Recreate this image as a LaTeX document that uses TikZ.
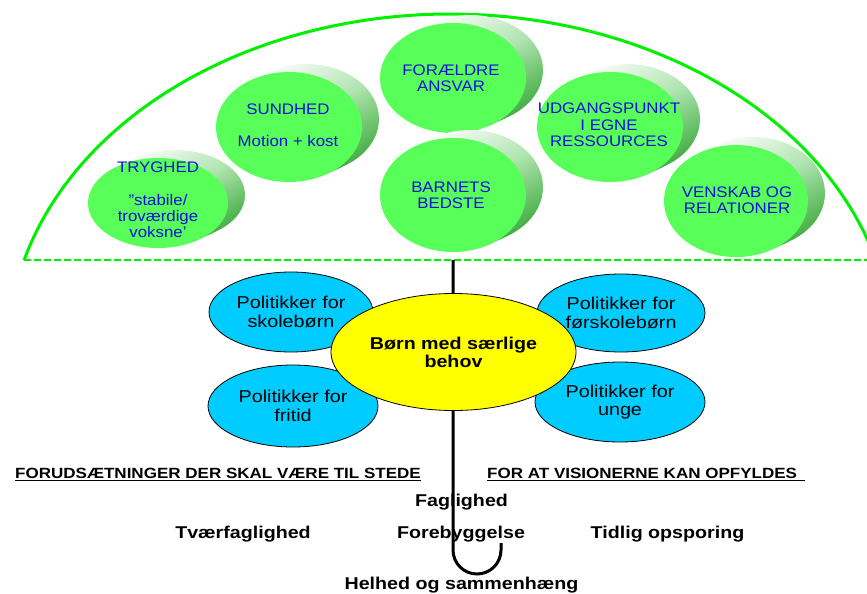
\documentclass[tikz,border=0pt]{standalone}
\usepackage{fontspec}
\setmainfont{Liberation Sans}
\newfontfamily\gfont[FakeStretch=1.1]{Liberation Sans}
\newfontfamily\bfont[FakeStretch=1.15]{Liberation Sans}
\usetikzlibrary{shapes.geometric}
\definecolor{canopy}{RGB}{0,240,0}
\definecolor{bubblegreen}{RGB}{88,255,88}
\definecolor{shadowgreen}{RGB}{60,170,60}
\definecolor{shadowmid}{RGB}{175,228,175}
\definecolor{textblue}{RGB}{15,15,220}
\definecolor{skyblue}{RGB}{0,204,255}
\definecolor{sunyellow}{RGB}{255,255,0}
\tikzset{
  greentext/.style={text=textblue, align=center, inner sep=0pt, font=\gfont\fontsize{15.3}{16.3}\selectfont},
  blueell/.style={ellipse, draw=black, line width=0.8pt, fill=skyblue, inner sep=0pt, align=center, font=\bfont\fontsize{17.2}{18.5}\selectfont},
  yellowell/.style={ellipse, draw=black, line width=0.8pt, fill=sunyellow, inner sep=0pt, align=center, font=\bfont\bfseries\fontsize{17.1}{18}\selectfont},
  bottomtext/.style={inner sep=0pt, font=\bfont\bfseries\fontsize{17.1}{18}\selectfont},
  headtext/.style={inner sep=0pt, font=\bfont\bfseries\fontsize{14.8}{16}\selectfont},
  shadowshade/.style={top color=white, bottom color=shadowgreen, middle color=shadowmid, shading angle=30},
}
\newcommand\gbubble[4]{%
  \shade[shadowshade]
    ({#1+3},{#2-1.5}) ellipse[x radius=#3pt, y radius=#4pt]
    ({#1+6},{#2-3}) ellipse[x radius=#3pt, y radius=#4pt]
    ({#1+9},{#2-4.5}) ellipse[x radius=#3pt, y radius=#4pt]
    ({#1+12},{#2-5.5}) ellipse[x radius=#3pt, y radius=#4pt]
    ({#1+15},{#2-7}) ellipse[x radius=#3pt, y radius=#4pt]
    ({#1+17},{#2-8}) ellipse[x radius=#3pt, y radius=#4pt];
  \fill[bubblegreen] (#1,#2) ellipse[x radius=#3pt, y radius=#4pt];
}
\begin{document}
\begin{tikzpicture}[x=1pt,y=-1pt]
\useasboundingbox (0,0) rectangle (867,594);
\fill[white] (0,0) rectangle (867,594);
% canopy
\begin{scope}
  \clip (0,0) rectangle (867,594);
  \draw[canopy, line width=3pt] plot[domain=164.5:12, samples=150, smooth] ({450+442*cos(\x)},{350-336*sin(\x)});
\end{scope}
\coordinate (dl) at (24,260);
\coordinate (dr) at (867,260);
\draw[canopy, line width=2.6pt, dash pattern=on 6.5pt off 3.5pt] (dl) -- (dr);
% handle
\coordinate (htop) at (453,260);
\coordinate (hbend) at (453,550);
\draw[line width=3pt] (htop) -- (hbend) arc[start angle=180, end angle=360, radius=24pt] -- ++(0,-7);
% green bubbles
\gbubble{158}{203}{70}{45}
\node[greentext] (tryghed) at (158,200) {TRYGHED\\[16pt]”stabile/\\troværdige\\voksne’};
\gbubble{289}{127}{73}{55}
\node[greentext] (sundhed) at (288,125) {SUNDHED\\[16pt]Motion + kost};
\gbubble{453}{78}{73}{55}
\node[greentext] (foraeldre) at (451,78) {FORÆLDRE\\ANSVAR};
\gbubble{453}{195}{73}{57}
\node[greentext] (barnets) at (451,195) {BARNETS\\BEDSTE};
\gbubble{610}{127}{73}{55}
\node[greentext] (udgang) at (609,125) {UDGANGSPUNKT\\I EGNE\\RESSOURCES};
\gbubble{736}{201}{72}{56}
\node[greentext] (venskab) at (737,200) {VENSKAB OG\\RELATIONER};
% blue ellipses
\node[blueell, minimum width=164pt, minimum height=80pt] (skole) at (291,312) {Politikker for\\skolebørn};
\node[blueell, minimum width=170pt, minimum height=82pt] (fritid) at (293,406) {Politikker for\\fritid};
\node[blueell, minimum width=168pt, minimum height=78pt] (forskole) at (621,313) {Politikker for\\førskolebørn};
\node[blueell, minimum width=170pt, minimum height=80pt] (unge) at (620,402) {Politikker for\\unge};
% centre
\node[yellowell, minimum width=245pt, minimum height=117pt] (centre) at (453.5,352) {Børn med særlige\\behov};
% headings
\node[headtext, anchor=base west] (h1) at (15,478) {FORUDSÆTNINGER DER SKAL VÆRE TIL STEDE};
\draw[line width=1.2pt] ([yshift=-2.5pt]h1.base west) -- ([yshift=-2.5pt]h1.base east);
\node[headtext, anchor=base west] (h2) at (487,478) {FOR AT VISIONERNE KAN OPFYLDES};
\coordinate (u2) at (805,480.5);
\draw[line width=1.2pt] ([yshift=-2.5pt]h2.base west) -- (u2);
% bottom texts
\node[bottomtext] (fag) at (461.5,502) {Faglighed};
\node[bottomtext] (tvaer) at (243,534) {Tværfaglighed};
\node[bottomtext] (fore) at (461,534) {Forebyggelse};
\node[bottomtext] (tidlig) at (667.5,534) {Tidlig opsporing};
\node[bottomtext] (helhed) at (461.5,585) {Helhed og sammenhæng};
\end{tikzpicture}
\end{document}
